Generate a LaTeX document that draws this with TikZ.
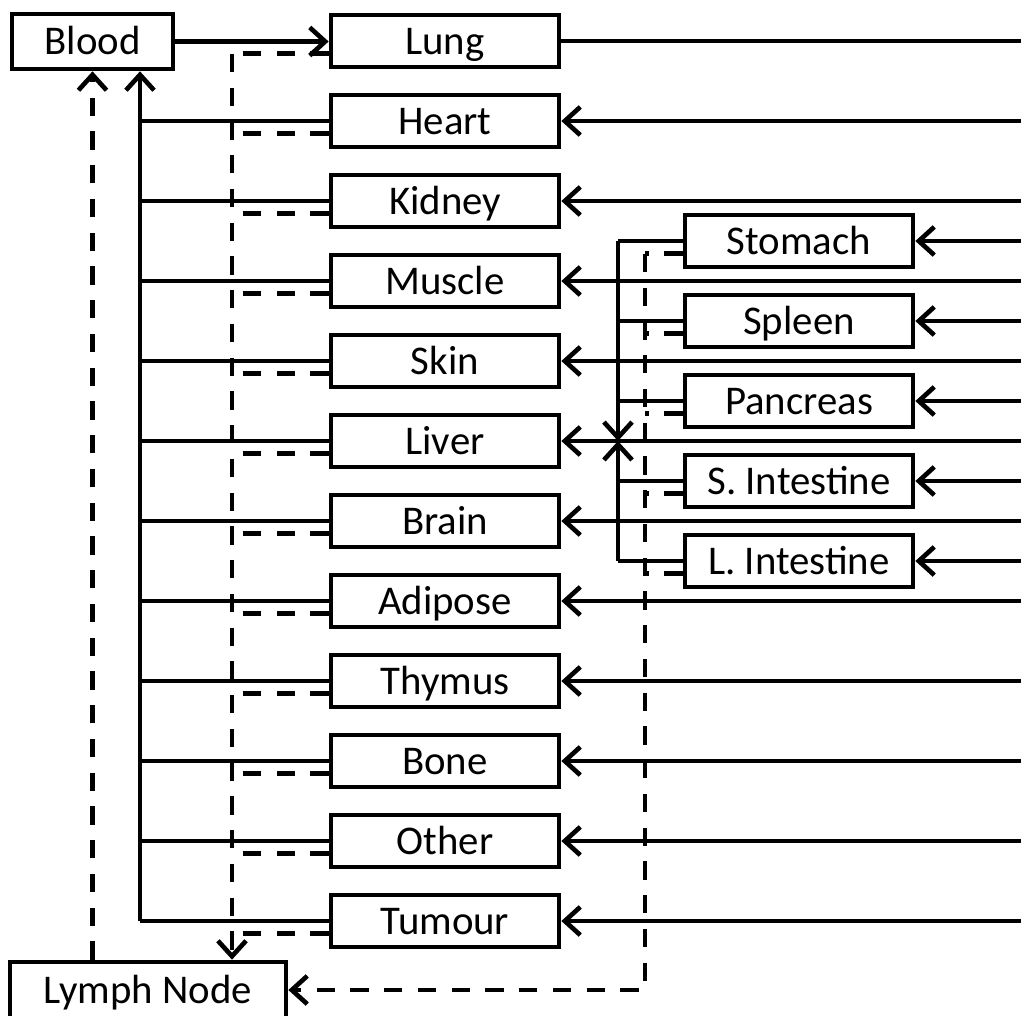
\documentclass[tikz,border=0pt]{standalone}
\usepackage{fontspec}
\setmainfont{Carlito}
\usetikzlibrary{arrows.meta, positioning}

\begin{document}
\begin{tikzpicture}[x=0.025cm, y=-0.025cm, line width=3.3pt,
    font=\fontsize{29}{34}\selectfont,
    organ/.style={draw, rectangle, minimum width=5.7cm, minimum height=1.3cm, inner sep=0pt,
        text height=18.5pt, text depth=0pt},
    lymph/.style={dash pattern=on 13pt off 11pt},
    >={Straight Barb[length=11pt, width=20pt]}]
    \useasboundingbox (0,0) rectangle (1021,1015);
    % Blood und Lymphknoten
    \node[organ, minimum width=4.025cm, minimum height=1.375cm] (blood) at (92.5,41.5) {Blood};
    \node[organ, minimum width=6.9cm, minimum height=1.4cm] (lymphnode) at (148,990) {Lymph Node};
    % Organe links
    \foreach \name [count=\i from 0] in {Lung,Heart,Kidney,Muscle,Skin,Liver,Brain,Adipose,Thymus,Bone,Other,Tumour} {
        \node[organ] (L\i) at (445,41+80*\i) {\name};
    }
    % Organe rechts (Pfortader)
    \foreach \name [count=\i from 0] in {Stomach,Spleen,Pancreas,S. Intestine,L. Intestine} {
        \node[organ] (G\i) at (799,241+80*\i) {\name};
    }
    % Hilfskoordinaten
    \coordinate (edge) at (1021,0);
    \coordinate (vc) at (140,0);
    \coordinate (ly) at (232,0);
    \coordinate (pv) at (618,0);
    \coordinate (gl) at (645,0);
    % arterielle Zufuhr
    \draw[->] (blood.east) -- (blood.east -| L0.west);
    \draw (L0.east) -- (L0.east -| edge);
    \foreach \i in {1,...,11} {
        \draw[<-] (L\i.east) -- (L\i.east -| edge);
    }
    \foreach \i in {0,...,4} {
        \draw[<-] (G\i.east) -- (G\i.east -| edge);
    }
    % venoeser Rueckfluss
    \foreach \i in {1,...,11} {
        \draw (L\i.west) -- (L\i.west -| vc);
    }
    \draw[->] (L11.west -| vc) -- (vc |- blood.south);
    \foreach \i in {0,...,4} {
        \draw (G\i.west) -- (G\i.west -| pv);
    }
    \draw[->] (G0.west -| pv) -- (pv |- L5.east);
    \draw[->] (G4.west -| pv) -- (pv |- L5.east);
    % Lymphe
    \foreach \i in {0,...,11} {
        \draw[lymph] ([yshift=-0.32cm]L\i.west) -- ([yshift=-0.32cm]L\i.west -| ly);
    }
    \draw[lymph, ->] ([yshift=-0.32cm]L0.west -| ly) -- (ly |- lymphnode.north);
    \foreach \i in {0,...,4} {
        \draw[lymph] ([yshift=-0.32cm]G\i.west) -- ([yshift=-0.32cm]G\i.west -| gl);
    }
    \draw[lymph, ->] ([yshift=-0.32cm]G0.west -| gl) -- (gl |- lymphnode.east) -- (lymphnode.east);
    \draw[lymph, ->] (lymphnode.north -| blood.south) -- (blood.south);
\end{tikzpicture}
\end{document}
